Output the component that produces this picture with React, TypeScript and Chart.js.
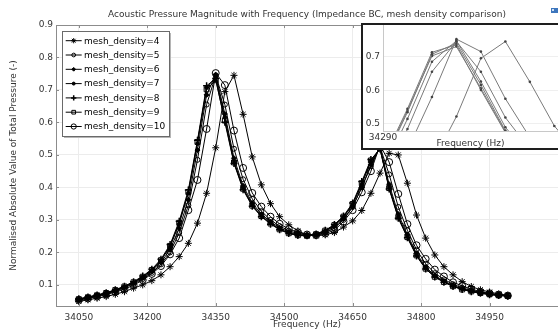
import React, { useEffect, useRef } from 'react';
import { Chart, registerables } from 'chart.js';

Chart.register(...registerables);

const FONT = '"DejaVu Sans", sans-serif';

const titleText = 'Acoustic Pressure Magnitude with Frequency (Impedance BC, mesh density comparison)';
const xTitle = 'Frequency (Hz)';
const yTitle = 'Normalised Absolute Value of Total Pressure (-)';

const frequencies = [
  34050, 34070, 34090, 34110, 34130, 34150, 34170, 34190, 34210, 34230, 34250, 34270,
  34290, 34310, 34330, 34350, 34370, 34390, 34410, 34430, 34450, 34470, 34490, 34510,
  34530, 34550, 34570, 34590, 34610, 34630, 34650, 34670, 34690, 34710, 34730, 34750,
  34770, 34790, 34810, 34830, 34850, 34870, 34890, 34910, 34930, 34950, 34970, 34990,
];

const xTickLabels = [34050, 34200, 34350, 34500, 34650, 34800, 34950];
const yTickLabels = [0.1, 0.2, 0.3, 0.4, 0.5, 0.6, 0.7, 0.8, 0.9];
const insetXTickLabels = [34290];
const insetYTickLabels = [0.5, 0.6, 0.7];

const seriesNames = [
  'mesh_density=4', 'mesh_density=5', 'mesh_density=6', 'mesh_density=7',
  'mesh_density=8', 'mesh_density=9', 'mesh_density=10',
];

const mesh4 = [
  0.049, 0.054, 0.059, 0.064, 0.071, 0.079, 0.090, 0.100, 0.113, 0.131, 0.156, 0.187,
  0.228, 0.290, 0.382, 0.522, 0.695, 0.745, 0.625, 0.494, 0.408, 0.350, 0.310, 0.285,
  0.266, 0.254, 0.251, 0.254, 0.261, 0.278, 0.297, 0.329, 0.382, 0.444, 0.505, 0.500,
  0.413, 0.315, 0.244, 0.192, 0.156, 0.131, 0.110, 0.095, 0.085, 0.078, 0.072, 0.068,
];
const mesh5 = [
  0.054, 0.060, 0.066, 0.072, 0.081, 0.091, 0.103, 0.118, 0.137, 0.163, 0.200, 0.260,
  0.345, 0.485, 0.655, 0.745, 0.655, 0.519, 0.425, 0.365, 0.327, 0.300, 0.281, 0.267,
  0.258, 0.253, 0.254, 0.261, 0.275, 0.300, 0.340, 0.400, 0.465, 0.525, 0.440, 0.340,
  0.268, 0.208, 0.165, 0.136, 0.117, 0.102, 0.091, 0.083, 0.077, 0.073, 0.069, 0.067,
];
const mesh6 = [
  0.055, 0.061, 0.067, 0.074, 0.083, 0.093, 0.106, 0.121, 0.141, 0.169, 0.209, 0.274,
  0.362, 0.515, 0.685, 0.747, 0.626, 0.490, 0.405, 0.352, 0.318, 0.294, 0.276, 0.263,
  0.255, 0.252, 0.255, 0.264, 0.280, 0.303, 0.340, 0.400, 0.470, 0.525, 0.410, 0.318,
  0.255, 0.197, 0.155, 0.129, 0.112, 0.098, 0.088, 0.081, 0.076, 0.072, 0.069, 0.066,
];
const mesh7 = [
  0.056, 0.062, 0.068, 0.075, 0.084, 0.095, 0.108, 0.124, 0.145, 0.175, 0.218, 0.288,
  0.382, 0.535, 0.707, 0.740, 0.616, 0.480, 0.398, 0.346, 0.313, 0.290, 0.272, 0.260,
  0.253, 0.251, 0.256, 0.266, 0.283, 0.308, 0.347, 0.410, 0.480, 0.520, 0.400, 0.310,
  0.249, 0.192, 0.151, 0.126, 0.110, 0.096, 0.087, 0.080, 0.075, 0.071, 0.068, 0.066,
];
const mesh8 = [
  0.057, 0.063, 0.069, 0.076, 0.085, 0.096, 0.110, 0.127, 0.148, 0.179, 0.224, 0.296,
  0.392, 0.545, 0.713, 0.735, 0.601, 0.474, 0.393, 0.342, 0.310, 0.287, 0.270, 0.258,
  0.252, 0.251, 0.257, 0.268, 0.286, 0.312, 0.352, 0.418, 0.486, 0.518, 0.395, 0.305,
  0.245, 0.189, 0.149, 0.124, 0.108, 0.095, 0.086, 0.079, 0.074, 0.070, 0.067, 0.065,
];
const mesh9 = [
  0.056, 0.062, 0.068, 0.075, 0.084, 0.095, 0.108, 0.125, 0.146, 0.176, 0.220, 0.291,
  0.386, 0.540, 0.702, 0.730, 0.606, 0.477, 0.396, 0.344, 0.312, 0.289, 0.271, 0.259,
  0.253, 0.251, 0.256, 0.267, 0.284, 0.310, 0.349, 0.413, 0.483, 0.520, 0.398, 0.308,
  0.247, 0.191, 0.150, 0.125, 0.109, 0.096, 0.086, 0.080, 0.075, 0.071, 0.068, 0.066,
];
const mesh10 = [
  0.053, 0.058, 0.064, 0.070, 0.078, 0.087, 0.099, 0.115, 0.134, 0.158, 0.194, 0.244,
  0.330, 0.423, 0.580, 0.752, 0.715, 0.575, 0.460, 0.383, 0.341, 0.310, 0.288, 0.272,
  0.262, 0.255, 0.253, 0.258, 0.268, 0.295, 0.330, 0.385, 0.450, 0.530, 0.478, 0.380,
  0.287, 0.222, 0.180, 0.147, 0.126, 0.108, 0.097, 0.087, 0.079, 0.074, 0.070, 0.067,
];

const seriesValues = [mesh4, mesh5, mesh6, mesh7, mesh8, mesh9, mesh10];

type MarkerDef = { style: string; radius: number; filled: boolean; width: number };
const markers: MarkerDef[] = [
  { style: 'star', radius: 3.5, filled: false, width: 1 },
  { style: 'circle', radius: 2.5, filled: false, width: 1 },
  { style: 'rectRot', radius: 2.5, filled: true, width: 1 },
  { style: 'circle', radius: 1.8, filled: true, width: 1 },
  { style: 'cross', radius: 3.5, filled: false, width: 1.5 },
  { style: 'rect', radius: 3.5, filled: false, width: 1 },
  { style: 'circle', radius: 3.5, filled: false, width: 1 },
];

function toPoints(vals: number[]) {
  return frequencies.map((f, i) => ({ x: f, y: vals[i] }));
}

function drawMarker(ctx: CanvasRenderingContext2D, m: MarkerDef, x: number, y: number, r: number) {
  ctx.lineWidth = m.width;
  ctx.strokeStyle = '#000';
  ctx.fillStyle = '#000';
  ctx.beginPath();
  if (m.style === 'circle') {
    ctx.arc(x, y, r, 0, Math.PI * 2);
  } else if (m.style === 'rect') {
    const s = r * Math.SQRT1_2;
    ctx.rect(x - s, y - s, 2 * s, 2 * s);
  } else if (m.style === 'rectRot') {
    ctx.moveTo(x - r, y);
    ctx.lineTo(x, y - r);
    ctx.lineTo(x + r, y);
    ctx.lineTo(x, y + r);
    ctx.closePath();
  } else if (m.style === 'cross') {
    ctx.moveTo(x - r, y); ctx.lineTo(x + r, y);
    ctx.moveTo(x, y - r); ctx.lineTo(x, y + r);
  } else if (m.style === 'star') {
    ctx.moveTo(x - r, y); ctx.lineTo(x + r, y);
    ctx.moveTo(x, y - r); ctx.lineTo(x, y + r);
    const d = r * Math.SQRT1_2;
    ctx.moveTo(x - d, y - d); ctx.lineTo(x + d, y + d);
    ctx.moveTo(x - d, y + d); ctx.lineTo(x + d, y - d);
  }
  if (m.filled) ctx.fill();
  ctx.stroke();
}

const mainDecor = {
  id: 'mainDecor',
  afterDraw(chart: any) {
    const ctx: CanvasRenderingContext2D = chart.ctx;
    const a = chart.chartArea;
    const xs = chart.scales.x;
    const ys = chart.scales.y;
    ctx.save();
    ctx.strokeStyle = '#8c8c8c';
    ctx.lineWidth = 1;
    ctx.beginPath();
    ctx.moveTo(a.left, Math.round(a.top) + 0.5);
    ctx.lineTo(a.right, Math.round(a.top) + 0.5);
    ctx.stroke();
    ctx.beginPath();
    for (const v of xTickLabels) {
      const px = Math.round(xs.getPixelForValue(v)) + 0.5;
      ctx.moveTo(px, a.bottom); ctx.lineTo(px, a.bottom - 3);
      ctx.moveTo(px, a.top); ctx.lineTo(px, a.top + 3);
    }
    for (const v of yTickLabels) {
      const py = Math.round(ys.getPixelForValue(v)) + 0.5;
      ctx.moveTo(a.left, py); ctx.lineTo(a.left + 3, py);
    }
    ctx.stroke();
    ctx.fillStyle = '#333';
    ctx.font = `9px ${FONT}`;
    ctx.textAlign = 'center';
    ctx.textBaseline = 'middle';
    ctx.fillText(titleText, (a.left + a.right) / 2, 15);
    ctx.fillStyle = '#3d76bd';
    ctx.fillRect(551, 8, 7, 5);
    ctx.fillStyle = '#cfe0f4';
    ctx.fillRect(552, 9, 2, 2);
    const lx = 62.5, ly = 31.5, lw = 107, lh = 105;
    ctx.fillStyle = '#b5b5b5';
    ctx.fillRect(lx + 1.5, ly + 1.5, lw, lh);
    ctx.fillStyle = '#fff';
    ctx.fillRect(lx, ly, lw, lh);
    ctx.strokeStyle = '#6a6a6a';
    ctx.lineWidth = 1;
    ctx.strokeRect(lx, ly, lw, lh);
    ctx.font = `9px ${FONT}`;
    ctx.textAlign = 'left';
    ctx.textBaseline = 'middle';
    seriesNames.forEach((name, i) => {
      const y = 40.7 + i * 14.3;
      ctx.strokeStyle = '#000';
      ctx.lineWidth = 1;
      ctx.beginPath();
      ctx.moveTo(65.7, y); ctx.lineTo(81.7, y);
      ctx.stroke();
      const m = markers[i];
      drawMarker(ctx, m, 73.7, y, Math.max(1.5, m.radius * 0.75));
      ctx.fillStyle = '#000';
      ctx.fillText(name, 84, y + 0.5);
    });
    ctx.restore();
  },
};

const insetDecor = {
  id: 'insetDecor',
  afterDraw(chart: any) {
    const ctx: CanvasRenderingContext2D = chart.ctx;
    const a = chart.chartArea;
    ctx.save();
    ctx.strokeStyle = '#c8c8c8';
    ctx.lineWidth = 1;
    ctx.beginPath();
    ctx.moveTo(Math.round(a.left) + 0.5, a.top);
    ctx.lineTo(Math.round(a.left) + 0.5, a.bottom);
    ctx.stroke();
    ctx.restore();
  },
};

function zeroPadding(s: any) {
  s.paddingLeft = 0;
  s.paddingRight = 0;
  s.paddingTop = 0;
  s.paddingBottom = 0;
}

export default function App() {
  const mainRef = useRef<HTMLCanvasElement>(null);
  const insetRef = useRef<HTMLCanvasElement>(null);

  useEffect(() => {
    const tickFont = { family: FONT, size: 9 };
    const main = new Chart(mainRef.current as HTMLCanvasElement, {
      type: 'line',
      data: {
        datasets: seriesNames.map((name, i) => ({
          label: name,
          data: toPoints(seriesValues[i]),
          borderColor: '#000',
          borderWidth: 1,
          pointStyle: markers[i].style as any,
          pointRadius: markers[i].radius,
          pointBorderWidth: markers[i].width,
          pointBorderColor: '#000',
          pointBackgroundColor: markers[i].filled ? '#000' : 'rgba(0,0,0,0)',
          tension: 0,
          fill: false,
        })),
      },
      options: {
        responsive: false,
        animation: false,
        devicePixelRatio: 1,
        layout: { autoPadding: false, padding: { top: 25, left: 0, right: 0, bottom: 0 } },
        plugins: { legend: { display: false }, tooltip: { enabled: false }, title: { display: false } },
        scales: {
          x: {
            type: 'linear',
            min: 34000,
            max: 35100,
            afterFit: (s: any) => { s.height = 25; zeroPadding(s); },
            afterBuildTicks: (s: any) => { s.ticks = xTickLabels.map((v) => ({ value: v })); },
            ticks: {
              maxRotation: 0,
              autoSkip: false,
              padding: 6,
              color: '#333',
              font: tickFont,
              callback: (v: any) => String(v),
            },
            grid: { color: '#ececec', drawTicks: false },
            border: { color: '#8c8c8c' },
            title: { display: true, text: xTitle, color: '#333', font: tickFont, padding: { top: 0, bottom: 1 } },
          },
          y: {
            type: 'linear',
            min: 0.035,
            max: 0.9,
            afterFit: (s: any) => { s.width = 56; zeroPadding(s); },
            afterBuildTicks: (s: any) => { s.ticks = yTickLabels.map((v) => ({ value: v })); },
            ticks: {
              padding: 3,
              color: '#333',
              font: tickFont,
              callback: (v: any) => Number(v).toFixed(1),
            },
            grid: { color: '#ececec', drawTicks: false },
            border: { color: '#8c8c8c' },
            title: { display: true, text: yTitle, color: '#333', font: tickFont, padding: { top: 8, bottom: 0 } },
          },
        },
      },
      plugins: [mainDecor],
    } as any);

    const inset = new Chart(insetRef.current as HTMLCanvasElement, {
      type: 'line',
      data: {
        datasets: seriesNames.map((name, i) => ({
          label: name,
          data: toPoints(seriesValues[i]),
          borderColor: '#7a7a7a',
          borderWidth: 1,
          pointStyle: 'circle',
          pointRadius: 1.3,
          pointBorderWidth: 0,
          pointBackgroundColor: '#444',
          tension: 0,
          fill: false,
        })),
      },
      options: {
        responsive: false,
        animation: false,
        devicePixelRatio: 1,
        layout: { autoPadding: false, padding: 0 },
        plugins: { legend: { display: false }, tooltip: { enabled: false }, title: { display: false } },
        scales: {
          x: {
            type: 'linear',
            min: 34290,
            max: 34433,
            afterFit: (s: any) => { s.height = 17; zeroPadding(s); },
            afterBuildTicks: (s: any) => { s.ticks = insetXTickLabels.map((v) => ({ value: v })); },
            ticks: {
              maxRotation: 0,
              autoSkip: false,
              padding: 1,
              color: '#333',
              font: tickFont,
              callback: (v: any) => String(v),
            },
            grid: { color: '#efefef', drawTicks: false },
            border: { color: '#c8c8c8' },
            title: { display: true, text: xTitle, color: '#333', font: { family: FONT, size: 9, lineHeight: 1 }, padding: { top: 0, bottom: 0 } },
          },
          y: {
            type: 'linear',
            min: 0.479,
            max: 0.794,
            afterFit: (s: any) => { s.width = 20; zeroPadding(s); },
            afterBuildTicks: (s: any) => { s.ticks = insetYTickLabels.map((v) => ({ value: v })); },
            ticks: {
              padding: 3,
              color: '#333',
              font: tickFont,
              callback: (v: any) => Number(v).toFixed(1),
            },
            grid: { color: '#efefef', drawTicks: false },
            border: { display: false },
          },
        },
      },
      plugins: [insetDecor],
    } as any);

    return () => {
      main.destroy();
      inset.destroy();
    };
  }, []);

  return (
    <div style={{ position: 'fixed', left: 0, top: 0, width: 558, height: 331, overflow: 'hidden', background: '#fff' }}>
      <canvas ref={mainRef} width={558} height={331} style={{ position: 'absolute', left: 0, top: 0 }} />
      <div
        style={{
          position: 'absolute',
          left: 361,
          top: 23,
          width: 199,
          height: 123,
          border: '2px solid #1e1e1e',
          background: '#fff',
        }}
      >
        <canvas ref={insetRef} width={195} height={123} style={{ display: 'block' }} />
      </div>
    </div>
  );
}
